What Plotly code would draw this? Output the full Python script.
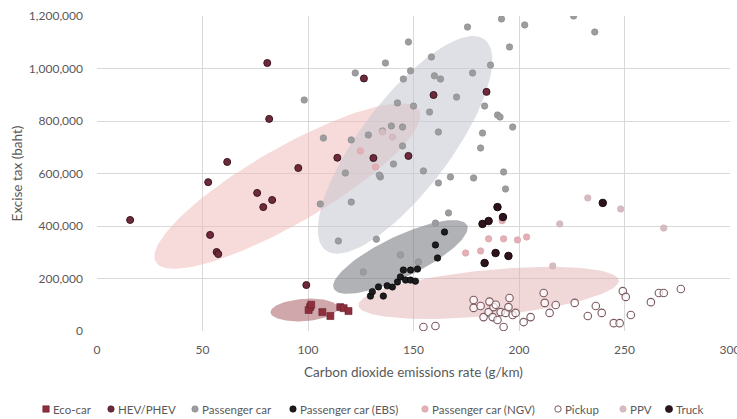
import numpy as np
import plotly.graph_objects as go

# ---------------- data ----------------
eco_x = [101.0, 100.3, 106.8, 110.6, 115.3, 116.9, 119.2, 101.5]
eco_y = [91000, 80000, 72000, 57000, 91000, 87000, 76000, 100000]

hev_x = [80.7, 81.6, 61.7, 52.7, 75.9, 83.0, 78.8, 95.4, 113.9, 126.5, 15.7, 53.6, 56.7, 57.5,
         99.2, 159.5, 184.6, 147.6, 131.0]
hev_y = [1021000, 808000, 644000, 567000, 526000, 499000, 472000, 621000, 660000, 962000, 423000,
         366000, 301000, 293000, 175000, 899000, 911000, 667000, 659000]

pc_x = [98.2, 122.4, 120.5, 114.4, 191.7, 202.7, 225.9, 235.9, 175.6, 195.5, 147.6, 136.7, 158.5,
        148.6, 145.2, 178.0, 186.5, 159.9, 162.8, 170.4, 142.4, 150.0, 157.6, 183.7, 189.8, 191.0,
        197.0, 139.5, 144.8, 135.3, 161.8, 144.8, 140.5, 182.7, 181.8, 154.7, 134.3, 167.5, 161.8,
        178.5, 192.7, 193.6, 166.6, 160.4, 132.4, 143.8, 126.2, 107.3, 120.5, 128.6, 133.8, 117.7,
        105.8, 152.3]
pc_y = [880000, 983000, 491000, 343000, 1189000, 1166000, 1200000, 1139000, 1158000, 1082000,
        1101000, 1021000, 1044000, 991000, 960000, 983000, 1013000, 972000, 960000, 891000, 869000,
        857000, 834000, 857000, 823000, 815000, 777000, 781000, 777000, 762000, 758000, 705000,
        636000, 754000, 697000, 610000, 587000, 587000, 564000, 583000, 606000, 541000, 450000,
        411000, 350000, 290000, 225000, 735000, 728000, 747000, 594000, 602000, 484000, 263000]

ebs_x = [129.6, 135.7, 133.4, 140.0, 142.4, 143.8, 146.2, 148.6, 150.9, 145.2, 148.6, 151.9,
         161.4, 160.4, 164.7, 137.5, 130.5]
ebs_y = [133000, 133000, 168000, 168000, 187000, 206000, 194000, 194000, 190000, 232000, 232000,
         236000, 278000, 328000, 377000, 172000, 150000]

ngv_x = [185.6, 192.7, 199.3, 203.6, 174.7, 181.8, 192.0, 124.8, 132.0]
ngv_y = [351000, 351000, 347000, 358000, 297000, 305000, 420000, 686000, 625000]

pickup_x = [178.5, 178.5, 181.8, 183.2, 185.6, 187.9, 187.5, 189.8, 191.3, 192.7, 193.6, 195.0,
            195.5, 197.0, 198.4, 202.2, 205.5, 211.7, 212.2, 214.5, 217.4, 226.4, 232.6, 236.4,
            239.2, 244.9, 247.7, 249.2, 250.6, 253.0, 262.5, 266.3, 268.6, 276.7, 154.7, 160.4,
            186.0, 189.0]
pickup_y = [118000, 88000, 95000, 53000, 72000, 91000, 53000, 42000, 72000, 15000, 69000, 91000,
            126000, 61000, 69000, 34000, 53000, 145000, 107000, 69000, 99000, 107000, 57000, 95000,
            69000, 30000, 30000, 152000, 130000, 61000, 110000, 145000, 145000, 160000, 15000, 19000,
            112000, 100000]

ppv_x = [232.6, 248.2, 219.3, 268.6, 216.0, 140.0, 135.3]
ppv_y = [507000, 465000, 408000, 392000, 248000, 739000, 758000]

truck_x = [182.7, 185.6, 189.8, 192.4, 188.9, 195.0, 183.7, 239.7]
truck_y = [408000, 419000, 472000, 434000, 297000, 286000, 259000, 488000]

# ellipses: centre x, centre y, semi-major, semi-minor (in g/km-equivalent), angle (deg)
ell_names = ["HEV/PHEV", "Passenger car", "Passenger car (EBS)", "Eco-car", "Pickup"]
ell_cx = [90.2, 146.0, 143.8, 98.2, 185.6]
ell_cy = [552000, 709000, 282000, 80000, 145000]
ell_a = [72.0, 62.6, 35.0, 16.0, 62.0]
ell_b = [18.0, 21.4, 9.8, 5.3, 10.9]
ell_ang = [30.0, 53.0, 25.5, 4.0, 5.5]

x_ticks = [0, 50, 100, 150, 200, 250, 300]
y_ticks = [0, 200000, 400000, 600000, 800000, 1000000, 1200000]

series_names = ["Eco-car", "HEV/PHEV", "Passenger car", "Passenger car (EBS)",
                "Passenger car (NGV)", "Pickup", "PPV", "Truck"]

# ---------------- styling / layout ----------------
ell_col = ["rgba(240,185,185,0.52)", "rgba(200,201,210,0.58)", "rgba(120,122,128,0.58)",
           "rgba(170,95,100,0.55)", "rgba(224,172,174,0.48)"]
Y_PER_X = 8028.0  # baht per g/km giving equal on-screen length

styles = {
    "Eco-car": dict(color="#8e2f3e", symbol="square", size=7, lc="#6a1f2c", lw=0.6),
    "HEV/PHEV": dict(color="#6e2a3a", symbol="circle", size=7, lc="#3a1620", lw=1),
    "Passenger car": dict(color="#9d9c9e", symbol="circle", size=6.5, lc="#8a898b", lw=0.6),
    "Passenger car (EBS)": dict(color="#1c1c1e", symbol="circle", size=6.5, lc="#000000", lw=0.6),
    "Passenger car (NGV)": dict(color="#e3b0b6", symbol="circle", size=6.5, lc="#d9a0a8", lw=0.6),
    "Pickup": dict(color="rgba(255,255,255,0.7)", symbol="circle", size=7.5, lc="#7c5a60", lw=1.1),
    "PPV": dict(color="#d6bcc0", symbol="circle", size=6.5, lc="#cdb0b5", lw=0.6),
    "Truck": dict(color="#2d141c", symbol="circle", size=7.5, lc="#1a0a10", lw=1),
}

L, R, T, B, W, H = 97, 7, 16, 88, 737, 419
PW, PH = W - L - R, H - T - B
legend_marker_px = [46, 111, 195, 293, 425, 558, 623, 669]
legend_y_px = 409

fig = go.Figure()

t = np.linspace(0, 2 * np.pi, 120)
for cx, cy, a, b, ang, col in zip(ell_cx, ell_cy, ell_a, ell_b, ell_ang, ell_col):
    th = np.radians(ang)
    ex = a * np.cos(t) * np.cos(th) - b * np.sin(t) * np.sin(th)
    ey = a * np.cos(t) * np.sin(th) + b * np.sin(t) * np.cos(th)
    fig.add_trace(go.Scatter(x=cx + ex, y=cy + ey * Y_PER_X, mode="lines", fill="toself",
                             fillcolor=col, line=dict(width=0), hoverinfo="skip",
                             showlegend=False))

series_data = [(eco_x, eco_y), (hev_x, hev_y), (pc_x, pc_y), (ebs_x, ebs_y), (ngv_x, ngv_y),
               (pickup_x, pickup_y), (ppv_x, ppv_y), (truck_x, truck_y)]
for name, (xs, ys) in zip(series_names, series_data):
    s = styles[name]
    fig.add_trace(go.Scatter(x=xs, y=ys, mode="markers", name=name, showlegend=False,
                             marker=dict(color=s["color"], symbol=s["symbol"], size=s["size"],
                                         line=dict(color=s["lc"], width=s["lw"]))))

# custom one-row legend (shapes + text) in the bottom margin
shapes, annos = [], []
ly = (PH + T - legend_y_px) / PH
for name, mpx in zip(series_names, legend_marker_px):
    s = styles[name]
    lx = (mpx - L) / PW
    r = 3.2 if name not in ("Truck",) else 3.6
    shapes.append(dict(type="rect" if s["symbol"] == "square" else "circle",
                       xref="paper", yref="paper", xsizemode="pixel", ysizemode="pixel",
                       xanchor=lx, yanchor=ly, x0=-r, x1=r, y0=-r, y1=r,
                       fillcolor="white" if name == "Pickup" else s["color"],
                       line=dict(color=s["lc"], width=1 if name == "Pickup" else 0.6)))
    annos.append(dict(text=name, xref="paper", yref="paper", x=(mpx + 4.5 - L) / PW, y=ly,
                      xanchor="left", yanchor="middle", showarrow=False,
                      font=dict(size=11.5, color="#595959")))

fig.update_layout(
    width=W, height=H,
    margin=dict(l=L, r=R, t=T, b=B, autoexpand=False),
    paper_bgcolor="white", plot_bgcolor="white",
    font=dict(family="Lato, Open Sans, sans-serif", size=12, color="#595959"),
    showlegend=False, shapes=shapes, annotations=annos,
)
fig.update_xaxes(range=[0, 300], tickvals=x_ticks, showgrid=True, gridcolor="#d9d9d9",
                 gridwidth=1, zeroline=False, showline=False, ticks="",
                 ticklabelstandoff=10, ticklabeloverflow="allow", automargin=False,
                 title=dict(text="Carbon dioxide emissions rate (g/km)", standoff=11,
                            font=dict(size=13.5, color="#595959")),
                 tickfont=dict(size=12, color="#595959"), fixedrange=True)
fig.update_yaxes(range=[0, 1200000], tickvals=y_ticks, tickformat=",", showgrid=True,
                 gridcolor="#d9d9d9", gridwidth=1, zeroline=False, showline=False, ticks="",
                 ticklabelstandoff=13, automargin=False,
                 title=dict(text="Excise tax (baht)", standoff=3,
                            font=dict(size=13.5, color="#595959")),
                 tickfont=dict(size=12, color="#595959"), fixedrange=True)

fig.write_html("out.html")
